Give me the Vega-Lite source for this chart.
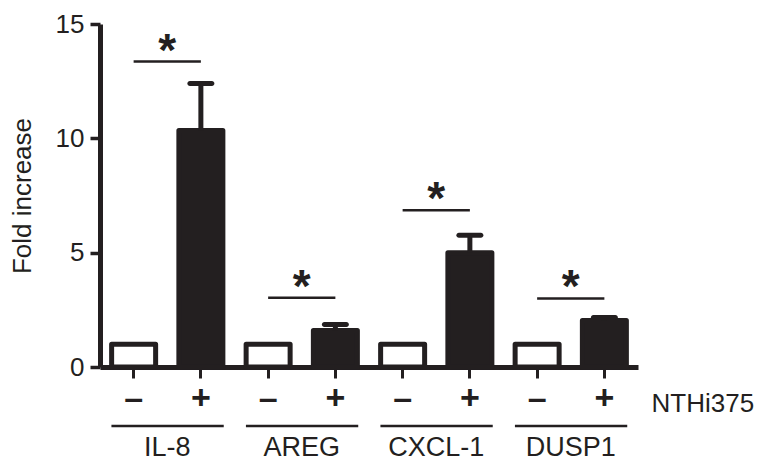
{
  "$schema": "https://vega.github.io/schema/vega-lite/v6.json",
  "background": "white",
  "padding": {"left": 9, "top": 11, "right": 5, "bottom": 0},
  "config": {"view": {"stroke": null}, "font": "Liberation Sans"},
  "datasets": {
    "bars": [
      {"gene": "IL-8", "treat": "–", "cat": "IL-8|–", "value": 1},
      {"gene": "IL-8", "treat": "+", "cat": "IL-8|+", "value": 10.34, "upper": 12.4},
      {"gene": "AREG", "treat": "–", "cat": "AREG|–", "value": 1},
      {"gene": "AREG", "treat": "+", "cat": "AREG|+", "value": 1.6, "upper": 1.86},
      {"gene": "CXCL-1", "treat": "–", "cat": "CXCL-1|–", "value": 1},
      {"gene": "CXCL-1", "treat": "+", "cat": "CXCL-1|+", "value": 5.0, "upper": 5.76},
      {"gene": "DUSP1", "treat": "–", "cat": "DUSP1|–", "value": 1},
      {"gene": "DUSP1", "treat": "+", "cat": "DUSP1|+", "value": 2.03, "upper": 2.17}
    ],
    "sig": [
      {"gene": "IL-8", "cat": "IL-8|–", "cat2": "IL-8|+", "line": 13.36},
      {"gene": "AREG", "cat": "AREG|–", "cat2": "AREG|+", "line": 3.03},
      {"gene": "CXCL-1", "cat": "CXCL-1|–", "cat2": "CXCL-1|+", "line": 6.86},
      {"gene": "DUSP1", "cat": "DUSP1|–", "cat2": "DUSP1|+", "line": 3.0}
    ]
  },
  "spacing": 0,
  "resolve": {"scale": {"x": "independent"}},
  "vconcat": [
    {
      "width": 538,
      "height": 343,
      "layer": [
        {
          "data": {"name": "bars"},
          "mark": {"type": "bar", "size": 44, "stroke": "#231f20", "strokeWidth": 5, "strokeJoin": "round"},
          "encoding": {
            "x": {
              "field": "cat", "type": "nominal",
              "scale": {"domain": ["IL-8|–", "IL-8|+", "AREG|–", "AREG|+", "CXCL-1|–", "CXCL-1|+", "DUSP1|–", "DUSP1|+"], "paddingInner": 0, "paddingOuter": 0},
              "axis": {
                "labelExpr": "split(datum.label, '|')[1]",
                "labelAngle": 0, "labelFontSize": 34, "labelFontWeight": "bold", "labelColor": "#231f20", "labelPadding": 3,
                "tickSize": 11, "tickWidth": 3, "tickColor": "#231f20",
                "domainWidth": 5, "domainColor": "#231f20",
                "title": "NTHi375", "titleFontSize": 26, "titleFontWeight": "normal", "titleColor": "#231f20",
                "titleAngle": 0, "titleAlign": "left", "titleBaseline": "middle", "titleAnchor": "start",
                "titleX": 551, "titleY": 36
              }
            },
            "y": {
              "field": "value", "type": "quantitative", "title": "Fold increase",
              "scale": {"domain": [0, 15], "nice": false},
              "axis": {
                "values": [0, 5, 10, 15], "grid": false,
                "labelFontSize": 26, "labelColor": "#231f20", "labelPadding": 6,
                "tickSize": 10, "tickWidth": 3.5, "tickColor": "#231f20",
                "domainWidth": 5, "domainColor": "#231f20",
                "titleFontSize": 26, "titleFontWeight": "normal", "titleColor": "#231f20", "titlePadding": 20
              }
            },
            "fill": {"field": "treat", "type": "nominal", "scale": {"domain": ["–", "+"], "range": ["white", "#231f20"]}, "legend": null}
          }
        },
        {
          "data": {"name": "bars"},
          "transform": [{"filter": "isValid(datum.upper)"}],
          "mark": {"type": "rule", "strokeWidth": 5, "color": "#231f20"},
          "encoding": {
            "x": {"field": "cat", "type": "nominal"},
            "y": {"field": "value", "type": "quantitative", "title": "Fold increase"},
            "y2": {"field": "upper"}
          }
        },
        {
          "data": {"name": "bars"},
          "transform": [{"filter": "isValid(datum.upper)"}],
          "mark": {"type": "tick", "orient": "horizontal", "size": 27, "thickness": 5, "cornerRadius": 2.5, "color": "#231f20", "opacity": 1},
          "encoding": {
            "x": {"field": "cat", "type": "nominal"},
            "y": {"field": "upper", "type": "quantitative", "title": "Fold increase"}
          }
        },
        {
          "data": {"name": "sig"},
          "mark": {"type": "rule", "strokeWidth": 2.5, "color": "#231f20"},
          "encoding": {
            "x": {"field": "cat", "type": "nominal"},
            "x2": {"field": "cat2"},
            "y": {"field": "line", "type": "quantitative", "title": "Fold increase"}
          }
        },
        {
          "data": {"name": "sig"},
          "mark": {"type": "text", "text": "*", "fontSize": 46, "fontWeight": "bold", "baseline": "alphabetic", "align": "center", "dy": 4, "color": "#231f20"},
          "encoding": {
            "x": {"field": "cat", "type": "nominal", "bandPosition": 1},
            "y": {"field": "line", "type": "quantitative", "title": "Fold increase"}
          }
        }
      ]
    },
    {
      "width": 538,
      "height": 20,
      "data": {"name": "sig"},
      "layer": [
        {
          "mark": {"type": "rule", "strokeWidth": 2.5, "color": "#231f20"},
          "encoding": {
            "x": {
              "field": "cat", "type": "nominal", "bandPosition": 0.17,
              "scale": {"domain": ["IL-8|–", "IL-8|+", "AREG|–", "AREG|+", "CXCL-1|–", "CXCL-1|+", "DUSP1|–", "DUSP1|+"], "paddingInner": 0, "paddingOuter": 0},
              "axis": null
            },
            "x2": {"field": "cat2", "bandPosition": 0.84}
          }
        },
        {
          "mark": {"type": "text", "fontSize": 27, "baseline": "middle", "align": "center", "dy": 22, "color": "#231f20"},
          "encoding": {
            "x": {"field": "cat", "type": "nominal", "bandPosition": 1},
            "text": {"field": "gene"}
          }
        }
      ]
    }
  ]
}
